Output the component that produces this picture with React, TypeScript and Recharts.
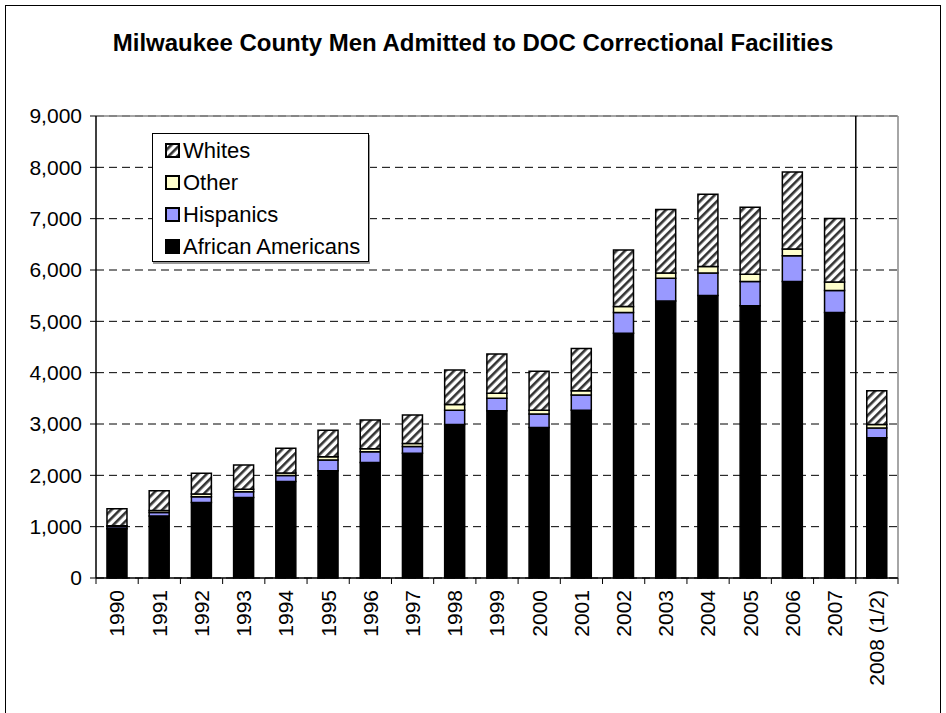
import React from 'react';
import {
  BarChart,
  Bar,
  XAxis,
  YAxis,
  CartesianGrid,
  ReferenceLine,
  Legend,
} from 'recharts';

const years = [
  '1990', '1991', '1992', '1993', '1994', '1995', '1996', '1997', '1998', '1999',
  '2000', '2001', '2002', '2003', '2004', '2005', '2006', '2007', '2008 (1/2)',
];
const africanAmericans = [960, 1210, 1470, 1570, 1880, 2090, 2250, 2430, 2990, 3260, 2930, 3270, 4770, 5395, 5505, 5305, 5775, 5170, 2730];
const hispanics = [40, 65, 115, 110, 115, 210, 210, 130, 280, 240, 265, 295, 400, 445, 435, 470, 505, 430, 190];
const other = [20, 40, 50, 50, 50, 60, 60, 60, 110, 100, 75, 85, 120, 100, 130, 140, 130, 165, 70];
const whites = [330, 385, 405, 470, 485, 520, 560, 555, 670, 765, 760, 820, 1100, 1240, 1405, 1305, 1500, 1240, 660];
const yTicks = [0, 1000, 2000, 3000, 4000, 5000, 6000, 7000, 8000, 9000];

const title = 'Milwaukee County Men Admitted to DOC Correctional Facilities';

const series = [
  { key: 'aa', name: 'African Americans', values: africanAmericans, fill: '#000000' },
  { key: 'hisp', name: 'Hispanics', values: hispanics, fill: '#9999FF' },
  { key: 'other', name: 'Other', values: other, fill: '#FFFFCC' },
  { key: 'whites', name: 'Whites', values: whites, fill: 'url(#hatch)' },
];

const data = years.map((y, i) => ({
  year: y,
  aa: africanAmericans[i],
  hisp: hispanics[i],
  other: other[i],
  whites: whites[i],
}));

const W = 946;
const H = 713;
const M_TOP = 116;
const M_RIGHT = 48;
const Y_AXIS_W = 96;
const X_AXIS_H = 135;
const PLOT_W = W - Y_AXIS_W - M_RIGHT;
const FONT = '"Liberation Sans", Arial, Helvetica, sans-serif';

const HatchDef = ({ id }: { id: string }) => (
  <pattern id={id} patternUnits="userSpaceOnUse" width={6} height={6} patternTransform="rotate(45)">
    <rect x={0} y={0} width={6} height={6} fill="#ffffff" />
    <rect x={0} y={0} width={2.6} height={6} fill="#333333" />
  </pattern>
);

const XTick = (props: any) => {
  const { x, y, payload, index } = props;
  const band = PLOT_W / years.length;
  const axisY = y - 12;
  return (
    <g>
      <line x1={x - band / 2} x2={x - band / 2} y1={axisY} y2={axisY + 6} stroke="#000" strokeWidth={1} />
      {index === years.length - 1 && (
        <line x1={x + band / 2} x2={x + band / 2} y1={axisY} y2={axisY + 6} stroke="#000" strokeWidth={1} />
      )}
      <text
        x={x}
        y={y}
        transform={`rotate(-90, ${x}, ${y})`}
        textAnchor="end"
        dy="0.35em"
        fontSize={21}
        fontFamily={FONT}
        fill="#000"
      >
        {payload.value}
      </text>
    </g>
  );
};

const LegendBox = () => {
  const items = [...series].reverse();
  return (
    <div
      style={{
        width: 217,
        height: 129,
        border: '1px solid #000',
        boxShadow: '1px 2px 0 #999',
        background: '#fff',
        boxSizing: 'border-box',
        paddingTop: 1,
        fontFamily: FONT,
        fontSize: 22,
        color: '#000',
      }}
    >
      {items.map((s) => (
        <div key={s.key} style={{ display: 'flex', alignItems: 'center', height: 32, paddingLeft: 11 }}>
          <svg width={17} height={18} style={{ marginRight: 2 }}>
            <defs>
              <HatchDef id={`lg-${s.key}`} />
            </defs>
            <rect
              x={2}
              y={2}
              width={13}
              height={13}
              fill={s.key === 'whites' ? `url(#lg-${s.key})` : s.fill}
              stroke="#000"
              strokeWidth={2}
            />
          </svg>
          <span style={{ lineHeight: '32px' }}>{s.name}</span>
        </div>
      ))}
    </div>
  );
};

export default function App() {
  return (
    <div
      style={{
        position: 'absolute',
        left: 0,
        top: 0,
        width: W,
        height: H,
        background: '#fff',
        overflow: 'hidden',
      }}
    >
      <div
        style={{
          position: 'absolute',
          left: 5,
          top: 5,
          width: 936,
          height: 740,
          border: '1px solid #000',
          boxSizing: 'border-box',
        }}
      />
      <div
        style={{
          position: 'absolute',
          left: 0,
          top: 29,
          width: W,
          textAlign: 'center',
          fontFamily: FONT,
          fontWeight: 'bold',
          fontSize: 24,
          lineHeight: '28px',
          color: '#000',
        }}
      >
        {title}
      </div>
      <div style={{ position: 'absolute', left: 0, top: 0 }}>
        <BarChart
          width={W}
          height={H}
          data={data}
          margin={{ top: M_TOP, right: M_RIGHT, bottom: 0, left: 0 }}
          barCategoryGap="26%"
        >
          <defs>
            <HatchDef id="hatch" />
          </defs>
          <CartesianGrid vertical={false} stroke="#000" strokeDasharray="8 5" strokeWidth={1} />
          <XAxis
            dataKey="year"
            height={X_AXIS_H}
            interval={0}
            tickLine={false}
            tickSize={6}
            tickMargin={6}
            axisLine={{ stroke: '#000', strokeWidth: 1.5 }}
            tick={<XTick />}
          />
          <YAxis
            width={Y_AXIS_W}
            domain={[0, 9000]}
            ticks={yTicks}
            interval={0}
            tickSize={6}
            tickMargin={8}
            tickFormatter={(v: number) => v.toLocaleString('en-US')}
            tick={{ fontSize: 21, fontFamily: FONT, fill: '#000' }}
            axisLine={{ stroke: '#000', strokeWidth: 1.5 }}
            tickLine={{ stroke: '#000' }}
          />
          <ReferenceLine y={9000} stroke="#888" strokeWidth={1.5} />
          <ReferenceLine x={years[years.length - 1]} position="end" stroke="#888" strokeWidth={1.5} />
          <ReferenceLine x={years[years.length - 1]} position="start" stroke="#000" strokeWidth={1.5} />
          {series.map((s) => (
            <Bar
              key={s.key}
              dataKey={s.key}
              name={s.name}
              stackId="a"
              fill={s.fill}
              stroke="#000"
              strokeWidth={1.5}
              isAnimationActive={false}
            />
          ))}
          <Legend
            layout="vertical"
            align="center"
            verticalAlign="middle"
            content={<LegendBox />}
            wrapperStyle={{ position: 'absolute', left: 152, top: 133, width: 217, height: 129 }}
          />
        </BarChart>
      </div>
    </div>
  );
}
